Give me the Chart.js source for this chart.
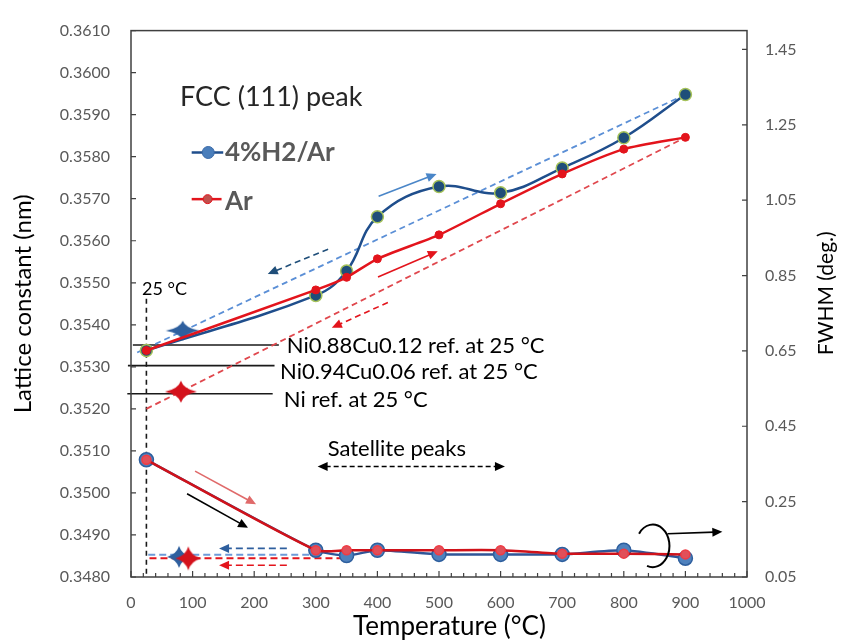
<!DOCTYPE html>
<html>
<head>
<meta charset="utf-8">
<script src="https://cdn.jsdelivr.net/npm/chart.js@4.4.1/dist/chart.umd.min.js"></script>
<style>
  html, body { margin: 0; padding: 0; background: #ffffff; }
  #wrap { width: 844px; height: 644px; }
</style>
</head>
<body>
<div id="wrap"><canvas id="c" width="844" height="644"></canvas></div>
<script>
// ---- data ----
const temps = [25, 300, 350, 400, 500, 600, 700, 800, 900];
// FCC (111) lattice constant, nm
const latticeH2 = [0.35339, 0.35470, 0.35528, 0.35657, 0.35729, 0.35714, 0.35773, 0.35845, 0.35948];
const latticeAr = [0.35339, 0.35483, 0.35513, 0.35557, 0.35614, 0.35688, 0.35759, 0.35818, 0.35846];
// FCC (111) peak width, deg.
const fwhmH2 = [0.361, 0.121, 0.107, 0.121, 0.110, 0.110, 0.110, 0.121, 0.100];
const fwhmAr = [0.361, 0.121, 0.121, 0.121, 0.121, 0.121, 0.112, 0.112, 0.110];
// after cooling back to room temperature
const cooledTemps = [84, 81];
const cooledLattice = [0.35386, 0.35241];   // 4%H2/Ar, Ar
const cooledFwhmTemps = [78, 93];
const cooledFwhm = [0.1035, 0.0993];       // 4%H2/Ar, Ar
// reference lattice constants at 25 °C
const refLabels = ['Ni0.88Cu0.12 ref. at 25 °C', 'Ni0.94Cu0.06 ref. at 25 °C', 'Ni ref. at 25 °C'];
const refLattice = [0.35352, 0.35303, 0.35236];
const refSpan = [[3, 240], [-5, 233], [-6, 230]];
// heating / cooling guide lines
const guideH2 = [[10, 0.35334], [900, 0.35948]];
const guideAr = [[25, 0.35200], [900, 0.35846]];
const guideFwhmH2 = [[28, 0.109], [300, 0.109]];
const guideFwhmAr = [[30, 0.100], [350, 0.100]];
const roomTempMark = [[25, 0.35462], [25, 0.3480]];
// axis ticks
const tempTicks = [0, 100, 200, 300, 400, 500, 600, 700, 800, 900, 1000];
const latticeTicks = [0.3480, 0.3490, 0.3500, 0.3510, 0.3520, 0.3530, 0.3540, 0.3550, 0.3560, 0.3570, 0.3580, 0.3590, 0.3600, 0.3610];
const fwhmTicks = [0.05, 0.25, 0.45, 0.65, 0.85, 1.05, 1.25, 1.45];

const FONT = 'Lato, "Open Sans", "DejaVu Sans", sans-serif';
const GREY = '#595959';

const pts = (xs, ys) => xs.map((x, i) => ({ x: x, y: ys[i] }));
const pairs = arr => arr.map(p => ({ x: p[0], y: p[1] }));

// four-pointed star marker
function makeStar(color, hw, hh) {
  const c = document.createElement('canvas');
  c.width = Math.ceil(hw * 2 + 2);
  c.height = Math.ceil(hh * 2 + 2);
  const g = c.getContext('2d');
  const cx = c.width / 2, cy = c.height / 2, r = 2.6;
  g.beginPath();
  g.moveTo(cx - hw, cy);
  g.quadraticCurveTo(cx - r, cy - r, cx, cy - hh);
  g.quadraticCurveTo(cx + r, cy - r, cx + hw, cy);
  g.quadraticCurveTo(cx + r, cy + r, cx, cy + hh);
  g.quadraticCurveTo(cx - r, cy + r, cx - hw, cy);
  g.closePath();
  g.fillStyle = color;
  g.fill();
  return c;
}
const starBlueUp = makeStar('#2e5f9e', 17, 10);
const starRedUp = makeStar('#d4121c', 16, 11);
const starBlueLow = makeStar('#2e5f9e', 12, 11);
const starRedLow = makeStar('#d4121c', 13, 12);

const datasets = [
  { label: 'Ar', data: pts(temps, latticeAr), yAxisID: 'y', borderColor: '#e3141c', borderWidth: 2.5,
    tension: 0.2, pointRadius: 4, pointBackgroundColor: '#e3141c', pointBorderColor: '#e3141c', pointBorderWidth: 1 },
  { label: '4%H2/Ar', data: pts(temps, latticeH2), yAxisID: 'y', borderColor: '#1f4e8c', borderWidth: 2.5,
    tension: 0.4, pointRadius: 6, pointBackgroundColor: '#1f4e79', pointBorderColor: '#a5c25a', pointBorderWidth: 1.5 },
  { label: 'FWHM Ar', data: pts(temps, fwhmAr), yAxisID: 'y2', borderColor: '#d0121a', borderWidth: 2.5,
    tension: 0.2, pointRadius: 4.5, pointBackgroundColor: '#e0505a', pointBorderColor: '#f03c44', pointBorderWidth: 1.5 },
  { label: 'FWHM 4%H2/Ar', data: pts(temps, fwhmH2), yAxisID: 'y2', borderColor: '#2f5597', borderWidth: 2.5,
    tension: 0.2, pointRadius: 7, pointBackgroundColor: '#4f81bd', pointBorderColor: '#2e5f9e', pointBorderWidth: 1.5 },
  { label: 'cooled', data: pts(cooledTemps, cooledLattice), yAxisID: 'y', showLine: false,
    pointStyle: [starBlueUp, starRedUp], pointRadius: 10 },
  { label: 'cooled FWHM', data: pts(cooledFwhmTemps, cooledFwhm), yAxisID: 'y2', showLine: false,
    pointStyle: [starBlueLow, starRedLow], pointRadius: 10 },
  { label: 'guide H2', data: pairs(guideH2), yAxisID: 'y', borderColor: '#5b8fd6', borderWidth: 1.8,
    borderDash: [6, 4], pointRadius: 0, tension: 0 },
  { label: 'guide Ar', data: pairs(guideAr), yAxisID: 'y', borderColor: '#e0484e', borderWidth: 1.8,
    borderDash: [6, 4], pointRadius: 0, tension: 0 },
  { label: 'guide FWHM H2', data: pairs(guideFwhmH2), yAxisID: 'y2', borderColor: '#6d9ad8', borderWidth: 2,
    borderDash: [7, 4], pointRadius: 0, tension: 0 },
  { label: 'guide FWHM Ar', data: pairs(guideFwhmAr), yAxisID: 'y2', borderColor: '#e3141c', borderWidth: 2,
    borderDash: [7, 4], pointRadius: 0, tension: 0 },
];
refLattice.forEach((v, i) => {
  datasets.push({ label: refLabels[i], data: [{ x: refSpan[i][0], y: v }, { x: refSpan[i][1], y: v }],
    yAxisID: 'y', borderColor: '#1a1a1a', borderWidth: 1.6, pointRadius: 0, clip: false });
});
datasets.push({ label: '25 °C', data: pairs(roomTempMark), yAxisID: 'y', borderColor: '#1a1a1a',
  borderWidth: 1.6, borderDash: [5, 4], pointRadius: 0 });

// arrows in data coordinates
const arrows = [
  { axis: 'y', from: [402, 0.35706], to: [496, 0.35759], color: '#4a86c8', dash: [] },
  { axis: 'y', from: [320, 0.35580], to: [222, 0.35521], color: '#1f4e79', dash: [6, 4] },
  { axis: 'y', from: [401, 0.35514], to: [498, 0.35575], color: '#e3141c', dash: [] },
  { axis: 'y', from: [417, 0.35453], to: [326, 0.35393], color: '#e3141c', dash: [6, 4] },
  { axis: 'y', from: [104, 0.35052], to: [203, 0.34973], color: '#e06a6a', dash: [] },
  { axis: 'y', from: [91, 0.34998], to: [190, 0.34917], color: '#000000', dash: [] },
  { axis: 'y', from: [253, 0.34868], to: [143, 0.34868], color: '#2e5f9e', dash: [7, 4] },
  { axis: 'y', from: [253, 0.34828], to: [143, 0.34828], color: '#e3141c', dash: [7, 4] },
  { axis: 'y', from: [303, 0.35063], to: [607, 0.35063], color: '#000000', dash: [5, 3], both: true },
  { axis: 'y2', from: [871, 0.1646], to: [960, 0.1698], color: '#000000', dash: [] },
];

const texts = [
  { text: 'FCC (111) peak', x: 79.5, y: 0.35920, font: '400 27px ' + FONT, color: '#262626' },
  { text: '4%H2/Ar', x: 152.5, y: 0.35790, font: '700 26px ' + FONT, color: GREY },
  { text: 'Ar', x: 152.5, y: 0.35672, font: '700 26px ' + FONT, color: GREY },
  { text: refLabels[0], x: 253, y: 0.35332, font: '400 22px ' + FONT, color: '#000000' },
  { text: refLabels[1], x: 242, y: 0.35271, font: '400 22px ' + FONT, color: '#000000' },
  { text: refLabels[2], x: 248, y: 0.35205, font: '400 22px ' + FONT, color: '#000000' },
  { text: '25 °C', x: 18, y: 0.35470, font: '400 18px ' + FONT, color: '#000000' },
  { text: 'Satellite peaks', x: 431.5, y: 0.35089, font: '400 22px ' + FONT, color: '#000000', align: 'center' },
];

// legend keys: line ends, marker position
const legendKeys = [
  { x1: 98.5, x2: 149.7, mx: 125.4, y: 0.35810, line: '#1f4e8c', fill: '#4a7ebb', stroke: '#3a6aa8', r: 6 },
  { x1: 98.5, x2: 147.0, mx: 124.4, y: 0.35699, line: '#e3141c', fill: '#c0504d', stroke: '#e3141c', r: 4.5 },
];

function drawArrowHead(ctx, x, y, ang, color) {
  const L = 10, W = 4.5;
  ctx.beginPath();
  ctx.moveTo(x, y);
  ctx.lineTo(x - L * Math.cos(ang) + W * Math.sin(ang), y - L * Math.sin(ang) - W * Math.cos(ang));
  ctx.lineTo(x - L * Math.cos(ang) - W * Math.sin(ang), y - L * Math.sin(ang) + W * Math.cos(ang));
  ctx.closePath();
  ctx.fillStyle = color;
  ctx.fill();
}

const decorations = {
  id: 'decorations',
  afterDatasetsDraw(chart) {
    const ctx = chart.ctx;
    const xs = chart.scales.x;
    const area = chart.chartArea;
    ctx.save();

    // frame
    ctx.strokeStyle = '#404040';
    ctx.lineWidth = 1.5;
    ctx.strokeRect(area.left, area.top, area.right - area.left, area.bottom - area.top);

    // inward tick marks
    ctx.lineWidth = 1.2;
    ctx.beginPath();
    latticeTicks.forEach(v => {
      const y = chart.scales.y.getPixelForValue(v);
      ctx.moveTo(area.left, y); ctx.lineTo(area.left + 5, y);
    });
    fwhmTicks.forEach(v => {
      const y = chart.scales.y2.getPixelForValue(v);
      ctx.moveTo(area.right, y); ctx.lineTo(area.right - 5, y);
    });
    for (let t = 0; t <= 1000; t += 20) {
      const x = xs.getPixelForValue(t);
      const len = t % 100 === 0 ? 6 : 4;
      ctx.moveTo(x, area.bottom); ctx.lineTo(x, area.bottom - len);
    }
    ctx.stroke();

    // arrows
    arrows.forEach(a => {
      const ys = chart.scales[a.axis];
      const x1 = xs.getPixelForValue(a.from[0]), y1 = ys.getPixelForValue(a.from[1]);
      const x2 = xs.getPixelForValue(a.to[0]), y2 = ys.getPixelForValue(a.to[1]);
      const ang = Math.atan2(y2 - y1, x2 - x1);
      const sx = a.both ? x1 + 8 * Math.cos(ang) : x1, sy = a.both ? y1 + 8 * Math.sin(ang) : y1;
      ctx.strokeStyle = a.color;
      ctx.lineWidth = 1.6;
      ctx.setLineDash(a.dash);
      ctx.beginPath();
      ctx.moveTo(sx, sy);
      ctx.lineTo(x2 - 8 * Math.cos(ang), y2 - 8 * Math.sin(ang));
      ctx.stroke();
      ctx.setLineDash([]);
      drawArrowHead(ctx, x2, y2, ang, a.color);
      if (a.both) drawArrowHead(ctx, x1, y1, ang + Math.PI, a.color);
    });

    // bracket grouping the FWHM curves
    const bx = xs.getPixelForValue(847), by = chart.scales.y2.getPixelForValue(0.1326);
    ctx.strokeStyle = '#000000';
    ctx.lineWidth = 2;
    ctx.beginPath();
    ctx.ellipse(bx, by, 16.7, 21.3, 0, -145 * Math.PI / 180, 110 * Math.PI / 180, false);
    ctx.stroke();

    // legend keys
    legendKeys.forEach(k => {
      const y = chart.scales.y.getPixelForValue(k.y);
      ctx.strokeStyle = k.line;
      ctx.lineWidth = 2.5;
      ctx.beginPath();
      ctx.moveTo(xs.getPixelForValue(k.x1), y);
      ctx.lineTo(xs.getPixelForValue(k.x2), y);
      ctx.stroke();
      ctx.beginPath();
      ctx.arc(xs.getPixelForValue(k.mx), y, k.r, 0, Math.PI * 2);
      ctx.fillStyle = k.fill;
      ctx.fill();
      ctx.lineWidth = 1;
      ctx.strokeStyle = k.stroke;
      ctx.stroke();
    });

    // labels
    ctx.textBaseline = 'alphabetic';
    texts.forEach(t => {
      ctx.font = t.font;
      ctx.fillStyle = t.color;
      ctx.textAlign = t.align || 'left';
      ctx.fillText(t.text, xs.getPixelForValue(t.x), chart.scales.y.getPixelForValue(t.y));
    });

    // axis titles for temperature and FWHM
    ctx.fillStyle = '#000000';
    ctx.textAlign = 'center';
    ctx.textBaseline = 'middle';
    ctx.font = '400 26px ' + FONT;
    ctx.fillText('Temperature (°C)', xs.getPixelForValue(517), 627);
    ctx.save();
    ctx.translate(826, chart.scales.y.getPixelForValue(0.35475));
    ctx.rotate(-Math.PI / 2);
    ctx.font = '400 21px ' + FONT;
    ctx.fillText('FWHM (deg.)', 0, 0);
    ctx.restore();

    ctx.restore();
  }
};

const tickFont = { family: FONT, size: 16 };

new Chart(document.getElementById('c'), {
  type: 'line',
  data: { datasets: datasets },
  options: {
    responsive: false,
    animation: false,
    devicePixelRatio: 1,
    layout: { padding: { top: 20, left: 0, right: 0, bottom: 0 } },
    plugins: { legend: { display: false }, tooltip: { enabled: false } },
    elements: { line: { fill: false } },
    scales: {
      x: {
        type: 'linear', min: 0, max: 1000,
        afterFit: s => { s.height = 67; },
        afterBuildTicks: s => { s.ticks = tempTicks.map(v => ({ value: v })); },
        grid: { display: false, drawTicks: false },
        border: { display: false },
        ticks: { padding: 16, font: tickFont, color: GREY, maxRotation: 0, autoSkip: false, callback: v => String(v) }
      },
      y: {
        position: 'left', min: 0.3480, max: 0.3610,
        afterFit: s => { s.width = 131; },
        afterBuildTicks: s => { s.ticks = latticeTicks.map(v => ({ value: v })); },
        grid: { display: false, drawTicks: false },
        border: { display: false },
        ticks: { padding: 21, font: tickFont, color: GREY, autoSkip: false, callback: v => v.toFixed(4) },
        title: { display: true, text: 'Lattice constant (nm)', font: { family: FONT, size: 24 }, color: '#000000',
                 padding: { top: 9, bottom: 0 } }
      },
      y2: {
        position: 'right', min: 0.05, max: 1.5,
        afterFit: s => { s.width = 97; },
        afterBuildTicks: s => { s.ticks = fwhmTicks.map(v => ({ value: v })); },
        grid: { display: false, drawTicks: false },
        border: { display: false },
        ticks: { padding: 18, font: tickFont, color: GREY, autoSkip: false, callback: v => v.toFixed(2) }
      }
    }
  },
  plugins: [decorations]
});
</script>
</body>
</html>
